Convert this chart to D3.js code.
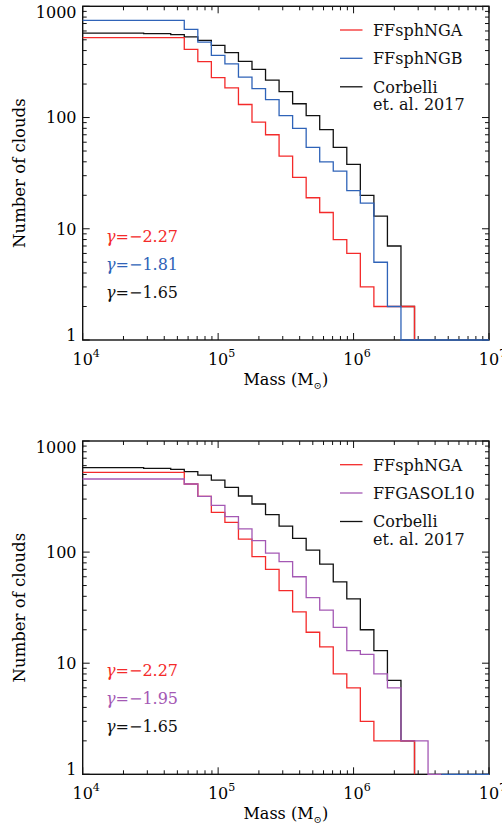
<!DOCTYPE html>
<html>
<head>
<meta charset="utf-8">
<script src="https://cdn.jsdelivr.net/npm/d3@7"></script>
<style>
  body { margin: 0; background: #fff; }
  svg text { font-family: "DejaVu Serif", serif; }
</style>
</head>
<body>
<svg id="chart" width="502" height="825"></svg>
<script>
// cumulative mass spectra, log10(M) step edges and counts N(>M)
const ngaEdges = [4.0, 4.75, 4.85, 4.95, 5.05, 5.15, 5.25, 5.35, 5.45, 5.55, 5.65, 5.75, 5.85, 5.95, 6.05, 6.15, 6.45]
const ngaCounts = [522, 410, 318, 228, 185, 131, 91, 70, 45, 29, 19, 14, 8, 6, 3, 2]

const ngbEdges = [4.0, 4.75, 4.85, 4.95, 5.05, 5.15, 5.25, 5.35, 5.45, 5.55, 5.65, 5.75, 5.85, 5.95, 6.05, 6.15, 6.25, 6.35, 7.0]
const ngbCounts = [748, 621, 477, 362, 304, 231, 182, 145, 104, 80, 54, 40, 33, 22, 17, 5, 2, 0]

const corbEdges = [4.0, 4.45, 4.65, 4.75, 4.85, 4.95, 5.05, 5.15, 5.25, 5.35, 5.45, 5.55, 5.65, 5.75, 5.85, 5.95, 6.05, 6.15, 6.25, 6.35, 6.45]
const corbCounts = [575, 567, 556, 530, 494, 445, 383, 320, 271, 217, 171, 133, 104, 78, 54, 38, 20, 13, 7, 2]

const gasolEdges = [4.0, 4.75, 4.85, 4.95, 5.05, 5.15, 5.25, 5.35, 5.45, 5.55, 5.65, 5.75, 5.85, 5.95, 6.05, 6.15, 6.25, 6.35, 6.55, 6.65]
const gasolCounts = [455, 410, 317, 263, 209, 162, 127, 98, 82, 60, 39, 30, 21, 13, 12, 8, 6, 2, 0]

// stray blue floor segment in the lower panel
const floorEdges = [6.65, 7.0]
const floorCounts = [0]

const yTicks = [1, 10, 100, 1000]
const xTicks = [1e4, 1e5, 1e6, 1e7]

const RED = "#f42a2a", BLUE = "#2f63b8", PURPLE = "#a458b4", BLACK = "#111"

const panels = [
    {top: 6.3, bottom: 340,
     series: [
        {edges: corbEdges, counts: corbCounts, color: BLACK},
        {edges: ngaEdges, counts: ngaCounts, color: RED},
        {edges: ngbEdges, counts: ngbCounts, color: BLUE}
     ],
     legend: [["FFsphNGA", RED], ["FFsphNGB", BLUE], ["Corbelli", BLACK, "et. al. 2017"]],
     gammas: [["\u22122.27", RED], ["\u22121.81", BLUE], ["\u22121.65", BLACK]]},
    {top: 441, bottom: 774.3,
     series: [
        {edges: corbEdges, counts: corbCounts, color: BLACK},
        {edges: ngaEdges, counts: ngaCounts, color: RED},
        {edges: gasolEdges, counts: gasolCounts, color: PURPLE},
        {edges: floorEdges, counts: floorCounts, color: BLUE}
     ],
     legend: [["FFsphNGA", RED], ["FFGASOL10", PURPLE], ["Corbelli", BLACK, "et. al. 2017"]],
     gammas: [["\u22122.27", RED], ["\u22121.95", PURPLE], ["\u22121.65", BLACK]]}
]

const left = 82.7, right = 489
const svg = d3.select("#chart")

const x = d3.scaleLog().domain([1e4, 1e7]).range([left, right])

// minor tick values for log axes
function minors(lo, hi) {
    let out = []
    for (let d = lo; d < hi; d *= 10)
        for (let k = 2; k <= 9; k++) out.push(d * k)
    return out
}

panels.forEach(p => {
    let y = d3.scaleLog().domain([1, 1000]).range([p.bottom, p.top]).clamp(true)
    let g = svg.append("g")

    // frame
    g.append("rect")
        .attr("x", left).attr("y", p.top)
        .attr("width", right - left).attr("height", p.bottom - p.top)
        .attr("fill", "none").attr("stroke", BLACK).attr("stroke-width", 1.4)

    // x ticks, bottom and top, pointing in
    let xt = xTicks.map(v => [v, 7]).concat(minors(1e4, 1e7).map(v => [v, 4]))
    xt.forEach(([v, len]) => {
        g.append("line").attr("x1", x(v)).attr("x2", x(v))
            .attr("y1", p.bottom).attr("y2", p.bottom - len)
            .attr("stroke", BLACK).attr("stroke-width", 1)
        g.append("line").attr("x1", x(v)).attr("x2", x(v))
            .attr("y1", p.top).attr("y2", p.top + len)
            .attr("stroke", BLACK).attr("stroke-width", 1)
    })
    // y ticks, left and right
    let yt = yTicks.map(v => [v, 7]).concat(minors(1, 1000).map(v => [v, 4]))
    yt.forEach(([v, len]) => {
        g.append("line").attr("x1", left).attr("x2", left + len)
            .attr("y1", y(v)).attr("y2", y(v))
            .attr("stroke", BLACK).attr("stroke-width", 1)
        g.append("line").attr("x1", right).attr("x2", right - len)
            .attr("y1", y(v)).attr("y2", y(v))
            .attr("stroke", BLACK).attr("stroke-width", 1)
    })

    // y tick labels
    yTicks.forEach(v => {
        let cy = Math.min(Math.max(y(v), p.top + 6), p.bottom - 5)
        g.append("text").attr("x", 76.5).attr("y", cy + 5.8)
            .attr("text-anchor", "end").attr("font-size", 16).text(v)
    })
    // x tick labels, 10^n
    xTicks.forEach(v => {
        let t = g.append("text").attr("x", x(v) - 10.2).attr("y", p.bottom + 25)
            .attr("font-size", 16)
        t.append("tspan").text("10")
        t.append("tspan").attr("font-size", 11).attr("dy", -8).text(Math.round(Math.log10(v)))
    })

    // axis titles
    let xt2 = g.append("text").attr("x", (left + right) / 2).attr("y", p.bottom + 44.5)
        .attr("text-anchor", "middle").attr("font-size", 16)
    xt2.append("tspan").text("Mass (M")
    xt2.append("tspan").attr("font-size", 10).attr("dy", 4.2).text("\u2299")
    xt2.append("tspan").attr("dy", -4.2).text(")")

    g.append("text")
        .attr("transform", `translate(25,${(p.top + p.bottom) / 2}) rotate(-90)`)
        .attr("text-anchor", "middle").attr("font-size", 16.5)
        .text("Number of clouds")

    // step histograms
    let line = d3.line()
        .x(d => x(Math.pow(10, d[0])))
        .y(d => y(Math.max(d[1], 1)))
        .curve(d3.curveStepAfter)
    p.series.forEach(s => {
        let pts = s.counts.map((c, i) => [s.edges[i], c])
        let last = s.edges[s.edges.length - 1]
        pts.push([last, s.counts[s.counts.length - 1]])
        pts.push([last, 0])
        g.append("path").attr("d", line(pts))
            .attr("fill", "none").attr("stroke", s.color).attr("stroke-width", 1.3)
    })

    // legend
    let offs = [23.7, 52, 80.5]
    p.legend.forEach((L, i) => {
        let ly = p.top + offs[i]
        g.append("line").attr("x1", 340).attr("x2", 362.5)
            .attr("y1", ly).attr("y2", ly)
            .attr("stroke", L[1]).attr("stroke-width", 1.3)
        g.append("text").attr("x", 373).attr("y", ly + 5.8)
            .attr("font-size", 16).attr("fill", BLACK).text(L[0])
        if (L[2]) {
            g.append("text").attr("x", 373).attr("y", ly + 23)
                .attr("font-size", 16).attr("fill", BLACK).text(L[2])
        }
    })

    // slopes
    p.gammas.forEach((G, i) => {
        let t = g.append("text").attr("x", 106).attr("y", p.bottom - 104 + 28 * i + 5.8)
            .attr("font-size", 16).attr("fill", G[1])
        t.append("tspan").attr("font-style", "italic").text("\u03b3")
        t.append("tspan").text("=" + G[0])
    })
})
</script>
</body>
</html>
